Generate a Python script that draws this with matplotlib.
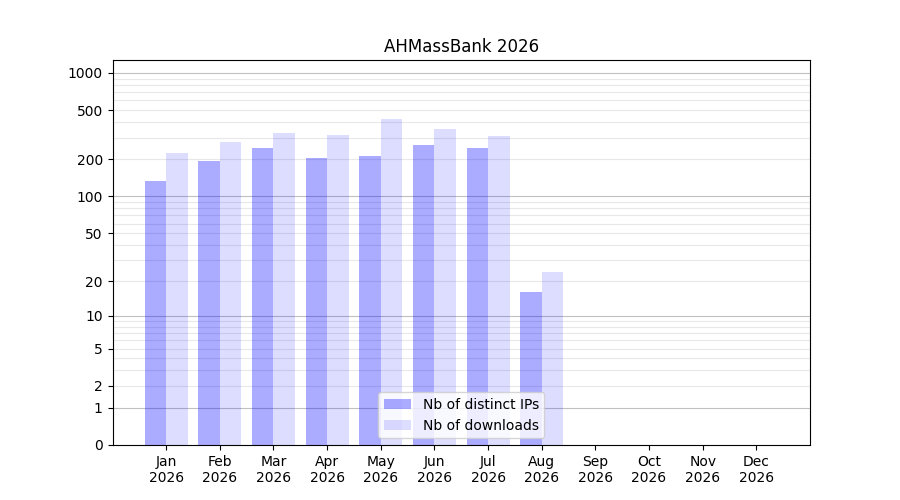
import numpy as np
import matplotlib
matplotlib.use("Agg")
import matplotlib.pyplot as plt

months = ["Jan", "Feb", "Mar", "Apr", "May", "Jun", "Jul", "Aug", "Sep", "Oct", "Nov", "Dec"]
year = "2026"
nb_ips = [134, 194, 248, 205, 213, 262, 248, 16, 0, 0, 0, 0]
nb_downloads = [225, 277, 327, 315, 425, 353, 310, 24, 0, 0, 0, 0]
tick_values = [0, 1, 2, 5, 10, 20, 50, 100, 200, 500, 1000]

def tr(v):
    # counts are drawn on a log10(1 + y) scale
    return np.log10(1 + np.asarray(v, dtype=float))

fig, ax = plt.subplots(figsize=(9, 5), dpi=100)
x = np.arange(1, len(months) + 1)

# background grid: decades darker, in-between values lighter
for dec in [1, 10, 100]:
    for k in range(2, 10):
        ax.axhline(tr(dec * k), color="#e8e8e8", lw=0.8, zorder=0)
for v in [1, 10, 100, 1000]:
    ax.axhline(tr(v), color="#c0c0c0", lw=0.8, zorder=0)

ax.bar(x - 0.2, tr(nb_ips), width=0.4, color="blue", alpha=0.33, label="Nb of distinct IPs", zorder=1)
ax.bar(x + 0.2, tr(nb_downloads), width=0.4, color="blue", alpha=0.133, label="Nb of downloads", zorder=1)

ax.set_xlim(0, 13)
ax.set_ylim(0, 3.105)
ax.set_xticks(x)
ax.set_xticklabels([f"{m}\n{year}" for m in months])
ax.set_yticks(tr(tick_values))
ax.set_yticklabels([str(v) for v in tick_values])
ax.set_title("AHMassBank 2026")
ax.legend(loc="lower center")

fig.savefig("out.png")
